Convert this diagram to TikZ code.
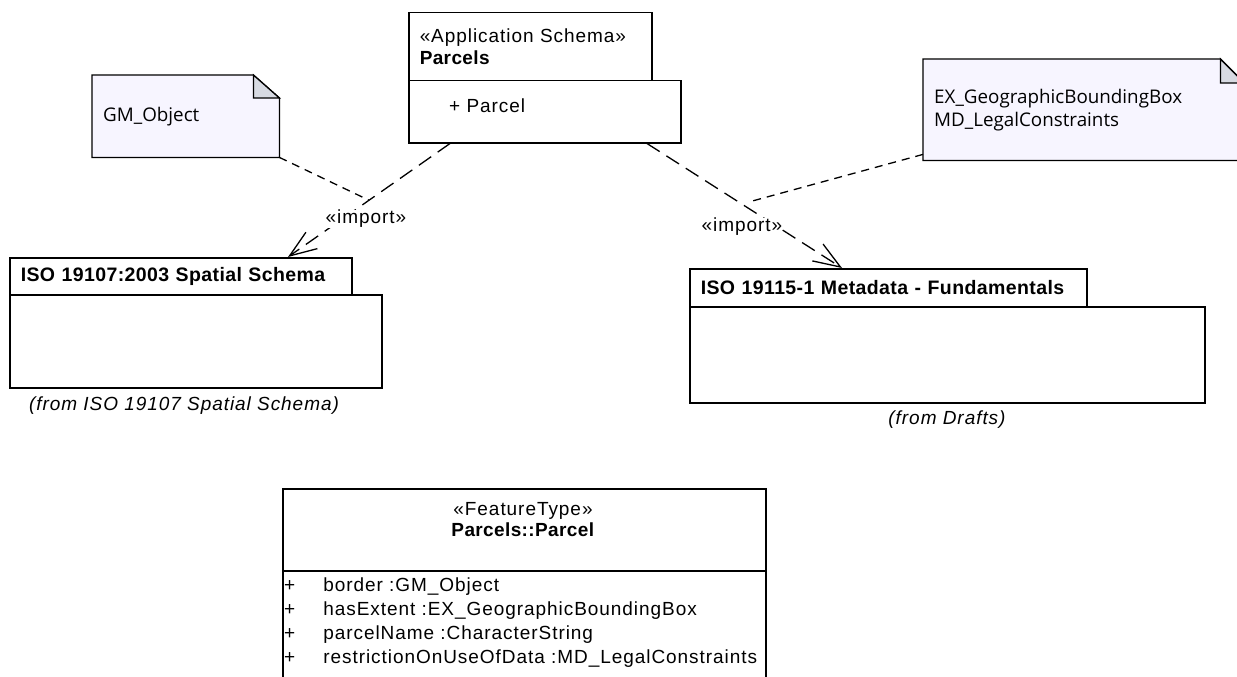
\documentclass[tikz,border=0pt]{standalone}
\usepackage{fontspec}
\setmainfont{Liberation Sans}[LetterSpace=5, BoldFeatures={LetterSpace=2}]
\newfontfamily\notefont{Open Sans}
\usetikzlibrary{arrows.meta,backgrounds}
\definecolor{notefill}{HTML}{F7F5FF}
\definecolor{foldfill}{HTML}{D7DAE2}

\tikzset{
  pkgtab/.style={draw, line width=1.5pt, anchor=north west, inner xsep=11pt, inner ysep=0pt, align=left, font=\fontsize{19.5}{22}\selectfont\bfseries},
  pkgbody/.style={draw, line width=1.5pt, anchor=north west, inner sep=0pt},
  notebox/.style={anchor=north west, inner xsep=11pt, inner ysep=0pt, align=left, font=\notefont\fontsize{18.8}{23}\selectfont},
  noteline/.style={draw, line width=1.3pt, fill=notefill},
  foldline/.style={draw, line width=1.3pt, fill=foldfill},
  importline/.style={line width=1.3pt, dash pattern=on 15pt off 8pt, -{Straight Barb[length=27pt,width=20pt]}},
  notelink/.style={line width=1.3pt, dash pattern=on 8pt off 6pt},
  lbl/.style={inner sep=0pt, font=\fontsize{19}{22}\selectfont},
  importlbl/.style={lbl, fill=white},
  fromlbl/.style={lbl, font=\fontsize{19}{22}\selectfont\itshape}
}

\begin{document}
\begin{tikzpicture}[x=1pt, y=-1pt]
\useasboundingbox (0,0) rectangle (1237,677);
\clip (0,0) rectangle (1237,677);

% application schema package
\node[pkgtab, text width=221pt, minimum height=68pt, font=\fontsize{19}{22}\selectfont] (apptab) at (408,12) {«Application Schema»\\\textbf{Parcels}};
\node[pkgbody, minimum width=272pt, minimum height=62pt] (appbody) at (408,80) {};
\node[lbl, anchor=west] (appop) at (449,106) {+ Parcel};

% imported packages
\node[pkgtab, text width=320pt, minimum height=37pt] (sptab) at (9,257) {ISO 19107:2003 Spatial Schema};
\node[pkgbody, minimum width=372pt, minimum height=93pt] (spbody) at (9,294) {};
\node[fromlbl] (spfrom) at (184,406) {(from ISO 19107 Spatial Schema)};

\node[pkgtab, text width=375pt, minimum height=38pt] (mdtab) at (689,268) {ISO 19115-1 Metadata - Fundamentals};
\node[pkgbody, minimum width=515pt, minimum height=96pt] (mdbody) at (689,306) {};
\node[fromlbl] (mdfrom) at (947,420) {(from Drafts)};

% notes
\node[notebox, text width=165pt, minimum height=82pt] (gmnote) at (92,75) {GM\_Object};
\node[notebox, text width=299pt, minimum height=101pt] (mdnote) at (923,59) {EX\_GeographicBoundingBox\\MD\_LegalConstraints};
\begin{scope}[on background layer]
\draw[noteline] (gmnote.north west) -- ([xshift=-26pt]gmnote.north east) -- ([yshift=-23pt]gmnote.north east) -- (gmnote.south east) -- (gmnote.south west) -- cycle;
\draw[foldline] ([xshift=-26pt]gmnote.north east) -- ([xshift=-26pt,yshift=-23pt]gmnote.north east) -- ([yshift=-23pt]gmnote.north east) -- cycle;
\draw[noteline] (mdnote.north west) -- ([xshift=-24pt]mdnote.north east) -- ([yshift=-24pt]mdnote.north east) -- (mdnote.south east) -- (mdnote.south west) -- cycle;
\draw[foldline] ([xshift=-24pt]mdnote.north east) -- ([xshift=-24pt,yshift=-24pt]mdnote.north east) -- ([yshift=-24pt]mdnote.north east) -- cycle;
\end{scope}

% dependencies
\draw[importline] ([xshift=42pt]appbody.south west) -- coordinate[pos=0.5] (gmjoin) ([xshift=279pt]sptab.north west);
\draw[importline] ([xshift=239pt]appbody.south west) -- coordinate[pos=0.47] (mdjoin) ([xshift=153pt]mdtab.north west);
\node[importlbl] (imp1) at (366,219) {«import»};
\node[importlbl] (imp2) at (742,227) {«import»};
\draw[notelink] (gmnote.south east) -- (gmjoin);
\draw[notelink] ([yshift=6pt]mdnote.south west) -- ([xshift=10pt]mdjoin);

% feature type
\node[pkgbody, minimum width=483pt, minimum height=82pt] (parcelhead) at (282,488) {};
\node[pkgbody, minimum width=483pt, minimum height=140pt] (parcelbody) at (282,570) {};
\node[lbl, align=center, font=\fontsize{19}{21}\selectfont] (parcelname) at (523,520) {«FeatureType»\\\textbf{Parcels::Parcel}};
\node[lbl, anchor=west, align=left, font=\fontsize{19}{24}\selectfont] (parcelattr) at (284,623) {+\hspace{28pt}border :GM\_Object\\+\hspace{28pt}hasExtent :EX\_GeographicBoundingBox\\+\hspace{28pt}parcelName :CharacterString\\+\hspace{28pt}restrictionOnUseOfData :MD\_LegalConstraints};
\end{tikzpicture}
\end{document}
